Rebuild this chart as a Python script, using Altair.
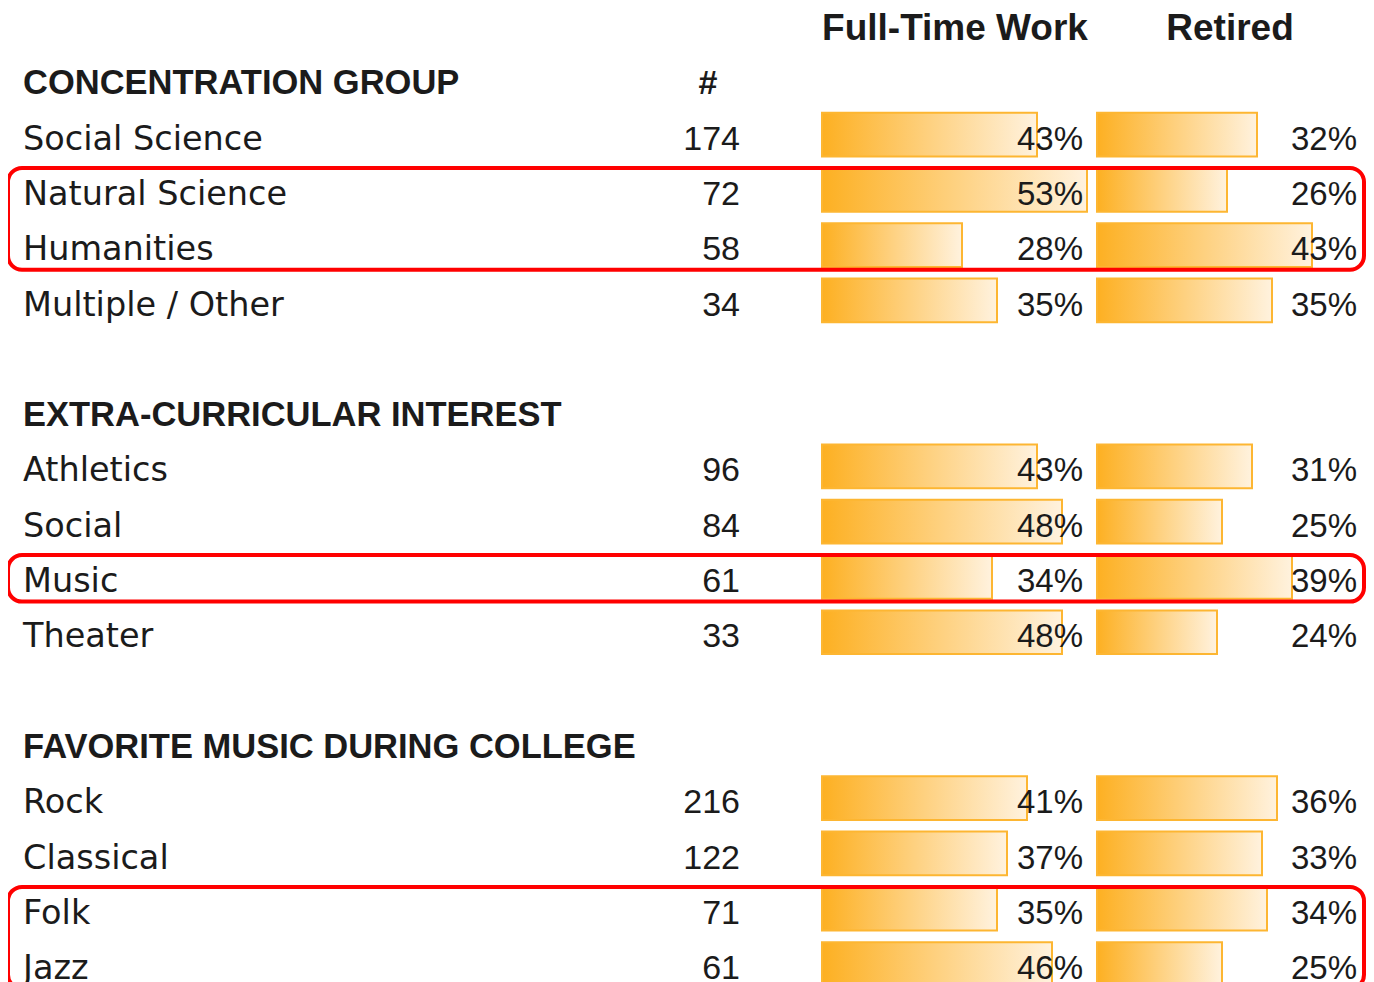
import altair as alt
import pandas as pd

# ---- data ----
groups = ["CONCENTRATION GROUP", "EXTRA-CURRICULAR INTEREST", "FAVORITE MUSIC DURING COLLEGE"]
categories = [
    ["Social Science", "Natural Science", "Humanities", "Multiple / Other"],
    ["Athletics", "Social", "Music", "Theater"],
    ["Rock", "Classical", "Folk", "Jazz"],
]
counts = [[174, 72, 58, 34], [96, 84, 61, 33], [216, 122, 71, 61]]
full_time = [[43, 53, 28, 35], [43, 48, 34, 48], [41, 37, 35, 46]]
retired = [[32, 26, 43, 35], [31, 25, 39, 24], [36, 33, 34, 25]]
highlights = [("Natural Science", "Humanities"), ("Music", "Music"), ("Folk", "Jazz")]
col_headers = ["Full-Time Work", "Retired"]

# ---- tables ----
grp_rows, cat_rows = [], []
r = 1
for gi, g in enumerate(groups):
    grp_rows.append({"row": r, "label": g})
    for ci, c in enumerate(categories[gi]):
        rr = r + 1 + ci
        cat_rows.append({
            "row": rr, "label": c, "n": str(counts[gi][ci]),
            "ft": full_time[gi][ci], "ret": retired[gi][ci],
            "ft_lbl": f"{full_time[gi][ci]}%", "ret_lbl": f"{retired[gi][ci]}%",
            "zero": 0, "top": rr - 0.45, "bot": rr + 0.34,
        })
    r += len(categories[gi]) + 2
grp_df = pd.DataFrame(grp_rows)
cat_df = pd.DataFrame(cat_rows)
row_of = dict(zip(cat_df["label"], cat_df["row"]))
hl_df = pd.DataFrame([{"top": row_of[a] - 0.45, "bot": row_of[b] + 0.39, "x0": 0, "x1": 1}
                      for a, b in highlights])
hdr_df = pd.DataFrame({"label": col_headers, "row": [0, 0], "col": [0, 1]})
hash_df = pd.DataFrame({"label": ["#"], "row": [1]})

W, H = 1358, 974
yscale = alt.Scale(domain=[(H - 19) / 55.3, -19 / 55.3], nice=False, zero=False)
Y = lambda f: alt.Y(f, scale=yscale, axis=None)

LBL_FONT = "DejaVu Sans"
NUM_FONT = "Liberation Sans"
TXT = "#1b1b1b"

grad = alt.LinearGradient(
    gradient="linear",
    stops=[alt.GradientStop(color="#FDB022", offset=0),
           alt.GradientStop(color="#FFF2DE", offset=1)],
    x1=0, x2=1, y1=0, y2=0,
)

base_cat = alt.Chart(cat_df)

group_titles = alt.Chart(grp_df).mark_text(
    align="left", baseline="middle", font=NUM_FONT, fontSize=34.5, fontWeight="bold",
    color=TXT, dy=2
).encode(x=alt.value(15), y=Y("row:Q"), text="label:N")

hash_txt = alt.Chart(hash_df).mark_text(
    align="center", baseline="middle", font=NUM_FONT, fontSize=34, fontWeight="bold",
    color=TXT, dy=2
).encode(x=alt.value(700), y=Y("row:Q"), text="label:N")

col_hdr = alt.Chart(hdr_df).mark_text(
    align="center", baseline="middle", font=NUM_FONT, fontSize=37, fontWeight="bold",
    color=TXT, dy=2
).encode(
    x=alt.X("col:Q", scale=alt.Scale(domain=[0, 1], range=[947, 1222]), axis=None),
    y=Y("row:Q"), text="label:N")

cat_labels = base_cat.mark_text(
    align="left", baseline="middle", font=LBL_FONT, fontSize=33.5, color=TXT, dy=2
).encode(x=alt.value(15), y=Y("row:Q"), text="label:N")

n_labels = base_cat.mark_text(
    align="right", baseline="middle", font=NUM_FONT, fontSize=34, color=TXT, dy=2
).encode(x=alt.value(732), y=Y("row:Q"), text="n:N")

ft_bars = base_cat.mark_rect(color=grad, stroke="#FDB632", strokeWidth=2).encode(
    x=alt.X("zero:Q", scale=alt.Scale(domain=[0, 53], range=[814, 1079]), axis=None),
    x2="ft:Q", y=Y("top:Q"), y2="bot:Q")

ret_bars = base_cat.mark_rect(color=grad, stroke="#FDB632", strokeWidth=2).encode(
    x=alt.X("zero:Q", scale=alt.Scale(domain=[0, 43], range=[1089, 1304]), axis=None),
    x2="ret:Q", y=Y("top:Q"), y2="bot:Q")

ft_lbl = base_cat.mark_text(
    align="right", baseline="middle", font=NUM_FONT, fontSize=33, color=TXT, dy=2
).encode(x=alt.value(1075), y=Y("row:Q"), text="ft_lbl:N")

ret_lbl = base_cat.mark_text(
    align="right", baseline="middle", font=NUM_FONT, fontSize=33, color=TXT, dy=2
).encode(x=alt.value(1349), y=Y("row:Q"), text="ret_lbl:N")

hl = alt.Chart(hl_df).mark_rect(
    filled=False, stroke="#FF0000", strokeWidth=4, cornerRadius=14
).encode(
    x=alt.X("x0:Q", scale=alt.Scale(domain=[0, 1], range=[0, 1356]), axis=None),
    x2="x1:Q", y=Y("top:Q"), y2="bot:Q")

chart = alt.layer(
    ft_bars, ret_bars, group_titles, hash_txt, col_hdr, cat_labels, n_labels,
    ft_lbl, ret_lbl, hl
).resolve_scale(x="independent").properties(
    width=W, height=H, autosize=alt.AutoSizeParams(type="none"), padding=0,
    background="white"
).configure_view(stroke=None)

chart.save("out.html", embed_options={"renderer": "svg", "actions": False})
